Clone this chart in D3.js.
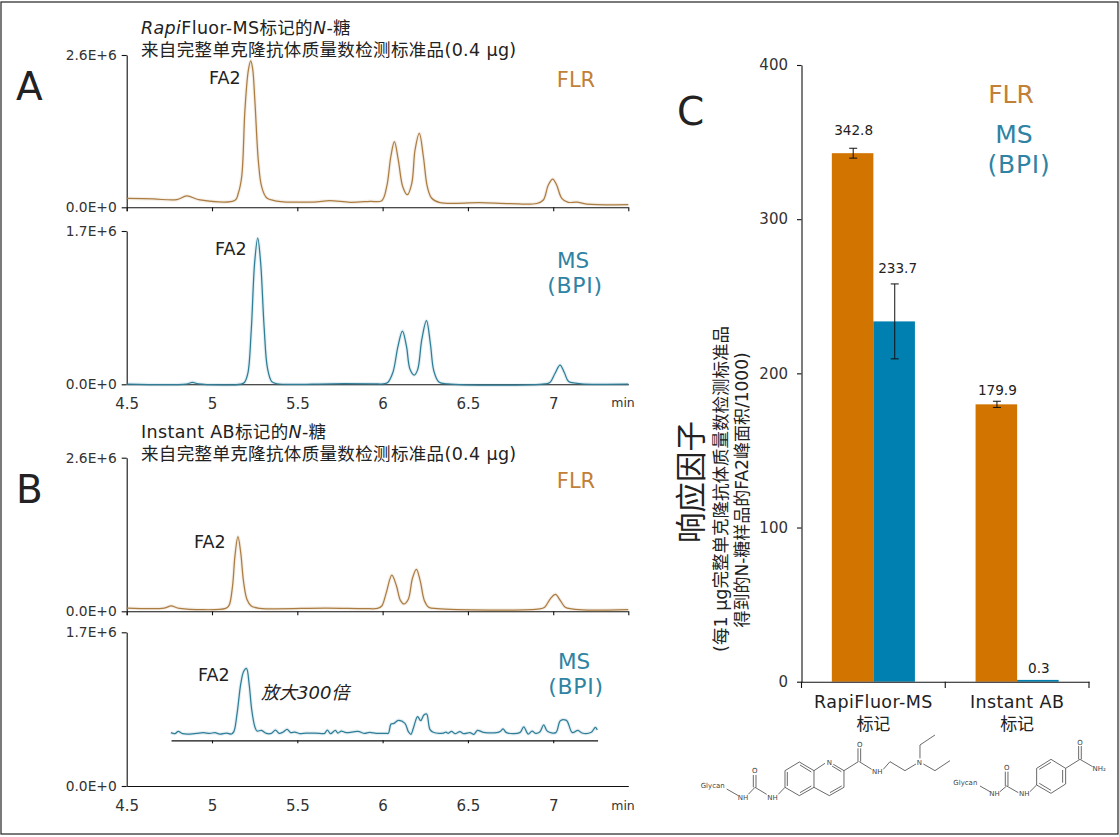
<!DOCTYPE html>
<html>
<head>
<meta charset="utf-8">
<script src="https://d3js.org/d3.v7.min.js"></script>
<style>
  body { margin: 0; background: #fff; }
  text { font-family: "DejaVu Sans", "Noto Sans CJK SC", sans-serif; fill: #222; }
  .axis path, .axis line { stroke: #111; stroke-width: 1.1; }
  .axis text { fill: #333; font-family: "DejaVu Sans", sans-serif; }
  .trace { fill: none; stroke-width: 1.25; stroke-linejoin: round; }
  .mol line { stroke: #444; stroke-width: 2.4; }
  .mol text { font-size: 21px; fill: #444; }
</style>
</head>
<body>
<div id="my_dataviz"></div>
<script>

// chromatogram data: time in min, intensity in 1E+6 counts
var flrATime = [4.5,4.656,4.793,4.852,4.93,5.135,5.154,5.174,5.193,5.213,5.227,5.238,5.252,5.272,5.291,5.32,5.38,5.594,5.69,5.81,5.926,5.995,6.024,6.048,6.069,6.092,6.118,6.145,6.171,6.19,6.215,6.239,6.262,6.288,6.336,6.571,6.747,6.903,6.942,6.971,6.997,7.02,7.05,7.088,7.138,7.196,7.44];
var flrAValue = [.154,.142,.13,.193,.125,.12,.239,.522,1.66,2.34,2.5,2.37,1.78,.778,.352,.164,.107,.09,.113,.085,.102,.113,.352,.863,1.12,.807,.352,.215,.41,.978,1.263,.863,.352,.154,.079,.079,.061,.065,.125,.38,.483,.38,.154,.085,.09,.056,.044];

var msATime = [4.5,4.85,4.885,4.92,5.17,5.19,5.21,5.23,5.25,5.268,5.285,5.305,5.325,5.35,5.38,5.7,5.95,6,6.03,6.06,6.09,6.116,6.14,6.16,6.185,6.205,6.23,6.257,6.28,6.3,6.33,6.38,6.95,6.98,7.01,7.04,7.065,7.09,7.13,7.18,7.44];
var msAValue = [.002,.003,.022,.004,.003,.02,.12,.6,1.35,1.62,1.35,.65,.18,.03,.006,.006,.006,.004,.02,.13,.42,.59,.42,.17,.103,.16,.5,.705,.45,.15,.025,.004,.004,.02,.12,.214,.13,.03,.012,.003,.001];

var flrBTime = [4.5,4.72,4.76,4.81,5.08,5.1,5.12,5.135,5.152,5.168,5.185,5.205,5.23,5.28,5.67,5.9,5.97,5.995,6.02,6.054,6.08,6.105,6.125,6.15,6.175,6.198,6.22,6.245,6.27,6.32,6.92,6.95,6.985,7.013,7.04,7.07,7.11,7.2,7.44];
var flrBValue = [.055,.055,.09,.05,.05,.1,.42,.95,1.262,1,.5,.2,.09,.05,.055,.045,.05,.09,.3,.614,.44,.18,.124,.2,.56,.71,.52,.18,.07,.045,.04,.07,.22,.288,.19,.07,.04,.02,.03];

var msBTime = [4.759,4.783,4.802,4.828,4.871,4.91,4.949,4.987,5.017,5.046,5.085,5.114,5.128,5.147,5.169,5.186,5.202,5.218,5.233,5.251,5.264,5.29,5.319,5.348,5.372,5.393,5.417,5.44,5.461,5.485,5.514,5.553,5.631,5.66,5.676,5.695,5.723,5.738,5.758,5.787,5.855,5.894,5.923,5.963,6.021,6.034,6.049,6.067,6.092,6.131,6.151,6.166,6.18,6.205,6.223,6.242,6.258,6.277,6.297,6.356,6.371,6.385,6.404,6.424,6.453,6.476,6.512,6.535,6.556,6.59,6.677,6.691,6.706,6.726,6.804,6.827,6.853,6.876,6.896,6.921,6.944,6.966,7.015,7.042,7.077,7.112,7.145,7.169,7.223,7.247,7.258];
var msBValue = [.59,.579,.604,.579,.575,.582,.59,.582,.59,.575,.586,.575,.601,.803,1.135,1.27,1.301,1.12,.84,.656,.608,.615,.582,.582,.619,.582,.597,.627,.59,.597,.579,.586,.582,.582,.619,.579,.615,.586,.608,.59,.604,.582,.593,.582,.582,.583,.686,.693,.726,.693,.601,.572,.638,.767,.723,.785,.797,.627,.594,.586,.597,.583,.605,.579,.601,.579,.59,.572,.616,.594,.594,.605,.631,.59,.59,.653,.575,.608,.583,.597,.675,.605,.59,.723,.726,.59,.616,.586,.594,.649,.62];

// baseline drawn under the magnified trace
var insetBaseTime = [4.76, 7.26];
var insetBaseValue = 0.505;

var timeDomain = [4.5, 7.44];
var timeTicks = [4.5, 5, 5.5, 6, 6.5, 7];
var flrMax = 2.6;
var msMax = 1.7;

// bar chart data
var labelCategories = ["RapiFluor-MS", "Instant AB"];
var detectors = ["FLR", "MS"];
var flrFactors = [342.8, 179.9];
var msFactors = [233.7, 0.3];
var flrErrors = [3.2, 2];
var msErrors = [24.3, 0];
var factorTicks = [0, 100, 200, 300, 400];

var flrColor = "#ac7d42", msColor = "#2f7e98";
var flrText = "#c17f37", msText = "#2f83a3";
var barColor = {FLR: "#d27400", MS: "#0080b0"};

var svg = d3.select("#my_dataviz")
  .append("svg")
    .attr("width", 1119)
    .attr("height", 837)
    .style("display", "block");

svg.append("rect")
  .attr("x", 1).attr("y", 2)
  .attr("width", 1117).attr("height", 832)
  .attr("fill", "none").attr("stroke", "#222").attr("stroke-width", 1.2);

var x = d3.scaleLinear().domain(timeDomain).range([126.7, 628.3]);

function expFormat(d) {
  return d.toFixed(1) + (d ? "E+6" : "E+0");
}

function addPanel(top, bottom, maxValue, times, values, color, showLabels) {
  var y = d3.scaleLinear().domain([0, maxValue]).range([bottom, top]);

  svg.append("g")
    .attr("class", "axis")
    .attr("transform", "translate(" + 126.7 + ",0)")
    .call(d3.axisLeft(y).tickValues([0, maxValue]).tickFormat(expFormat).tickSize(5).tickPadding(5).tickSizeOuter(0))
    .selectAll("text").style("font-size", "13.8px");

  var xAxis = d3.axisBottom(x).tickValues(timeTicks).tickSizeOuter(0)
    .tickSize(showLabels ? 0 : 4)
    .tickPadding(showLabels ? 14 : 3)
    .tickFormat(function(d) { return showLabels ? d : ""; });
  svg.append("g")
    .attr("class", "axis")
    .attr("transform", "translate(0," + bottom + ")")
    .call(xAxis)
    .selectAll("text").style("font-size", "15px");

  var line = d3.line()
    .x(function(d) { return x(d[0]); })
    .y(function(d) { return y(d[1]); })
    .curve(d3.curveCatmullRom.alpha(0.5));

  // soft halo like the compressed original, then the line
  svg.append("path")
    .datum(d3.zip(times, values))
    .attr("class", "trace")
    .attr("d", line)
    .attr("stroke", color)
    .attr("stroke-opacity", 0.13)
    .style("stroke-width", 3.5);
  svg.append("path")
    .datum(d3.zip(times, values))
    .attr("class", "trace")
    .attr("d", line)
    .attr("stroke", color);

  return y;
}

addPanel(55, 207.3, flrMax, flrATime, flrAValue, flrColor, false);
addPanel(231, 384.3, msMax, msATime, msAValue, msColor, true);
addPanel(457.7, 611.3, flrMax, flrBTime, flrBValue, flrColor, false);
var yMsB = addPanel(632.3, 786, msMax, msBTime, msBValue, msColor, true);

// magnified trace gets its own baseline with ticks
svg.append("g")
  .attr("class", "axis")
  .attr("transform", "translate(0," + yMsB(insetBaseValue) + ")")
  .call(d3.axisBottom(d3.scaleLinear().domain(insetBaseTime).range(insetBaseTime.map(x)))
    .tickValues(timeTicks.slice(1)).tickSize(3).tickSizeOuter(0).tickFormat(""));

function addText(str, px, py, size, opts) {
  opts = opts || {};
  return svg.append("text")
    .attr("x", px).attr("y", py)
    .attr("text-anchor", opts.anchor || "start")
    .attr("font-size", size)
    .attr("font-style", opts.italic ? "italic" : null)
    .attr("letter-spacing", opts.spacing || null)
    .style("fill", opts.color || null)
    .text(str);
}

// titles
function richTitle(parts, py) {
  var t = svg.append("text").attr("x", 141).attr("y", py)
    .attr("font-size", 17.5).attr("letter-spacing", 0.35);
  parts.forEach(function(p) {
    t.append("tspan").attr("font-style", p[1] ? "italic" : null).text(p[0]);
  });
}
richTitle([["Rapi", true], ["Fluor-MS标记的", false], ["N", true], ["-糖", false]], 34);
richTitle([["来自完整单克隆抗体质量数检测标准品(0.4 μg)", false]], 56);
richTitle([["Instant AB标记的", false], ["N", true], ["-糖", false]], 438);
richTitle([["来自完整单克隆抗体质量数检测标准品(0.4 μg)", false]], 460);

// panel letters
addText("A", 16, 100, 39);
addText("B", 16, 503, 39);
addText("C", 677, 125, 39);

// peak and detector labels
addText("FA2", 209, 84, 17.5);
addText("FA2", 215, 255, 17.5);
addText("FA2", 194, 548, 17.5);
addText("FA2", 198, 681, 17.5);
addText("放大300倍", 261, 699, 18, {italic: true});

addText("FLR", 576, 87, 21, {anchor: "middle", color: flrText});
addText("MS", 573, 268, 21.5, {anchor: "middle", color: msText});
addText("(BPI)", 575, 293, 22, {anchor: "middle", color: msText, spacing: 0.7});
addText("FLR", 576, 488, 21, {anchor: "middle", color: flrText});
addText("MS", 574, 669, 21.5, {anchor: "middle", color: msText});
addText("(BPI)", 576, 694, 22, {anchor: "middle", color: msText, spacing: 0.7});

// x axis unit, one per time axis
addText("min", 623, 407, 12.5, {anchor: "middle", color: "#333"});
addText("min", 623, 810, 12.5, {anchor: "middle", color: "#333"});

// bar chart
var x0 = d3.scaleBand().domain(labelCategories).range([801.5, 1089]);
var x1 = d3.scaleBand().domain(detectors).range([0, x0.bandwidth()]).paddingInner(0).paddingOuter(0.73);
var y = d3.scaleLinear().domain([0, 400]).range([681.7, 65]);

var barData = [];
labelCategories.forEach(function(c, i) {
  barData.push({category: c, detector: "FLR", value: flrFactors[i], error: flrErrors[i]});
  barData.push({category: c, detector: "MS", value: msFactors[i], error: msErrors[i]});
});

// the 0.3 bar would vanish under the axis, so keep it a sliver tall
svg.append("g").selectAll("rect")
  .data(barData)
  .enter().append("rect")
    .attr("x", function(d) { return x0(d.category) + x1(d.detector); })
    .attr("y", function(d) { return Math.min(y(d.value), y(0) - 1.8); })
    .attr("width", x1.bandwidth())
    .attr("height", function(d) { return Math.max(y(0) - y(d.value), 1.8); })
    .attr("fill", function(d) { return barColor[d.detector]; });

svg.append("g")
  .attr("class", "axis")
  .attr("transform", "translate(801.5,0)")
  .call(d3.axisLeft(y).tickValues(factorTicks).tickSize(4.5).tickPadding(9).tickSizeOuter(0))
  .selectAll("text").style("font-size", "15px");

svg.append("g")
  .attr("class", "axis")
  .attr("transform", "translate(0,681.7)")
  .call(d3.axisBottom(x0).tickSize(0).tickFormat(""));

// category separators sit on the band edges
var edges = labelCategories.map(function(c) { return x0(c); }).concat([x0.range()[1]]);
svg.append("g").selectAll("line")
  .data(edges)
  .enter().append("line")
    .attr("x1", function(d) { return d; }).attr("x2", function(d) { return d; })
    .attr("y1", 681.7).attr("y2", 688)
    .attr("stroke", "#111").attr("stroke-width", 1.1);

// error bars
var errorData = barData.filter(function(d) { return d.error > 0; });
var errorGroup = svg.append("g").selectAll("g")
  .data(errorData)
  .enter().append("g")
    .attr("transform", function(d) {
      return "translate(" + (x0(d.category) + x1(d.detector) + x1.bandwidth() / 2 + 0.6) + ",0)";
    })
    .attr("stroke", "#111")
    .attr("stroke-width", 1);
errorGroup.append("line")
  .attr("y1", function(d) { return y(d.value + d.error); })
  .attr("y2", function(d) { return y(d.value - d.error); });
errorGroup.append("line").attr("x1", -4).attr("x2", 4)
  .attr("y1", function(d) { return y(d.value + d.error); })
  .attr("y2", function(d) { return y(d.value + d.error); });
errorGroup.append("line").attr("x1", -4).attr("x2", 4)
  .attr("y1", function(d) { return y(d.value - d.error); })
  .attr("y2", function(d) { return y(d.value - d.error); });

// value labels, lifted by hand above each error bar
var labelLift = [18, 48, 9, 8];
var labelShift = [1, 3.5, 1, 1];
svg.append("g").selectAll("text")
  .data(barData)
  .enter().append("text")
    .attr("x", function(d, i) { return x0(d.category) + x1(d.detector) + x1.bandwidth() / 2 + labelShift[i]; })
    .attr("y", function(d, i) { return y(d.value) - labelLift[i]; })
    .attr("text-anchor", "middle")
    .attr("font-size", 13.6)
    .text(function(d) { return d.value; });

// category labels
labelCategories.forEach(function(c) {
  var cx = x0(c) + x0.bandwidth() / 2;
  addText(c, cx, 708, 17.5, {anchor: "middle", spacing: 0.4});
  addText("标记", cx, 730, 17, {anchor: "middle"});
});

addText("FLR", 1011, 103, 25, {anchor: "middle", color: flrText});
addText("MS", 1014, 143, 25, {anchor: "middle", color: msText});
addText("(BPI)", 1019, 173, 25, {anchor: "middle", color: msText, spacing: 0.8});

// rotated y titles
function rotatedText(str, bx, cy, size) {
  svg.append("text")
    .attr("transform", "translate(" + bx + "," + cy + ") rotate(-90)")
    .attr("text-anchor", "middle")
    .attr("font-size", size)
    .text(str);
}
rotatedText("响应因子", 702, 482, 30.5);
rotatedText("(每1 μg完整单克隆抗体质量数检测标准品", 727, 489, 17.5);
rotatedText("得到的N-糖样品的FA2峰面积/1000)", 748, 490, 17);

// label structures, traced in 3x coordinates of the lower right corner
var mol = svg.append("g").attr("class", "mol").attr("transform", "translate(670,680) scale(0.3333)");
var bonds = [
  [170,327,205,347],[235,343,255,322],[250,322,250,285],[258,322,258,285],[255,322,290,343],[325,343,345,322],
  [345,272,388,246],[388,246,432,272],[432,272,432,322],[432,322,388,347],[388,347,345,322],[345,322,345,272],
  [352,276,352,318],[390,255,424,276],[390,338,424,318],
  [432,272,465,250],[490,253,522,272],[522,272,522,322],[522,322,478,347],[478,347,432,322],[515,318,480,338],[486,258,514,275],
  [522,272,565,245],[564,245,564,205],[572,245,572,205],[568,245,605,268],[640,268,660,245],[660,245,705,272],[705,272,738,252],
  [750,235,750,195],[750,195,795,165],[760,252,795,272],[795,272,840,242],
  [930,318,960,335],[990,335,1010,318],[1006,318,1006,275],[1014,318,1014,275],[1010,318,1045,338],[1080,335,1100,315],
  [1100,265,1143,238],[1143,238,1187,265],[1187,265,1187,312],[1187,312,1143,340],[1143,340,1100,315],[1100,315,1100,265],
  [1108,268,1143,247],[1178,270,1178,308],[1143,331,1108,310],
  [1187,265,1230,238],[1226,238,1226,198],[1234,238,1234,198],[1230,238,1268,260]
];
mol.selectAll("line")
  .data(bonds)
  .enter().append("line")
    .attr("x1", function(d) { return d[0]; })
    .attr("y1", function(d) { return d[1]; })
    .attr("x2", function(d) { return d[2]; })
    .attr("y2", function(d) { return d[3]; });
var atoms = [
  ["Glycan",92,323],["NH",203,360],["O",246,280],["NH",292,360],["N",470,255],["O",561,200],["NH",606,282],["N",740,255],
  ["Glycan",850,314],["NH",958,348],["O",1002,270],["NH",1047,348],["O",1222,194],["NH₂",1268,274]
];
mol.selectAll("text")
  .data(atoms)
  .enter().append("text")
    .attr("x", function(d) { return d[1]; })
    .attr("y", function(d) { return d[2]; })
    .text(function(d) { return d[0]; });

</script>
</body>
</html>
